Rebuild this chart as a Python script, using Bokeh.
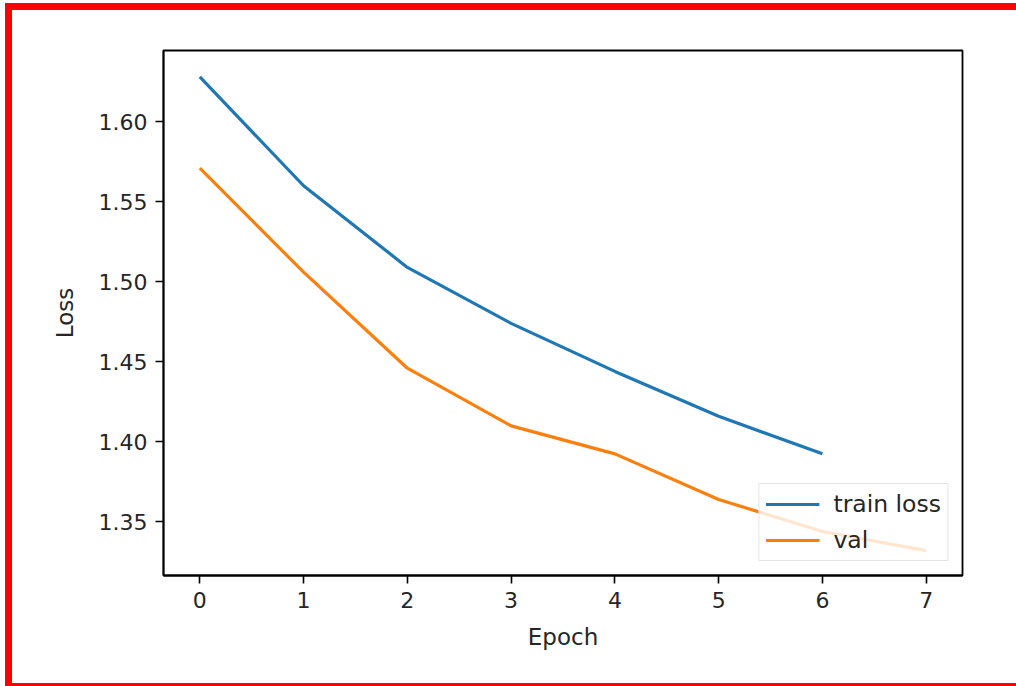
from bokeh.plotting import figure
from bokeh.models import Range1d, FixedTicker, NumeralTickFormatter, Legend, LegendItem
from bokeh.embed import file_html
from bokeh.resources import INLINE

# Data
epochs_train = [0, 1, 2, 3, 4, 5, 6]
train_loss = [1.628, 1.560, 1.509, 1.474, 1.444, 1.416, 1.3925]
epochs_val = [0, 1, 2, 3, 4, 5, 6, 7]
val_loss = [1.571, 1.506, 1.446, 1.410, 1.3925, 1.364, 1.344, 1.332]
x_ticks = [0, 1, 2, 3, 4, 5, 6, 7]
y_ticks = [1.35, 1.40, 1.45, 1.50, 1.55, 1.60]

FONT = "DejaVu Sans"
TXT = "#262626"

p = figure(
    width=1011, height=683,
    x_range=Range1d(-0.35, 7.35), y_range=Range1d(1.3165, 1.6445),
    output_backend="svg", toolbar_location=None,
    min_border_left=151, min_border_right=61, min_border_top=40, min_border_bottom=118,
)
p.styles = {"margin-left": "5px", "margin-top": "3px",
            "border-left": "7px solid #ff0000", "border-top": "7px solid #ff0000",
            "border-bottom": "3px solid #ff0000", "overflow": "hidden"}

p.xgrid.visible = False
p.ygrid.visible = False
p.outline_line_color = "black"
p.outline_line_width = 1.8

r_train = p.line(epochs_train, train_loss, line_color="#1f77b4", line_width=3.2)
r_val = p.line(epochs_val, val_loss, line_color="#ff7f0e", line_width=3.2)

for ax in (p.xaxis[0], p.yaxis[0]):
    ax.axis_line_color = "black"
    ax.axis_line_width = 1.8
    ax.major_tick_line_color = "black"
    ax.major_tick_line_width = 1.6
    ax.major_tick_out = 8
    ax.major_tick_in = 0
    ax.minor_tick_line_color = None
    ax.major_label_text_font = FONT
    ax.major_label_text_font_size = "22px"
    ax.major_label_text_color = TXT
    ax.axis_label_text_font = FONT
    ax.axis_label_text_font_size = "23px"
    ax.axis_label_text_font_style = "normal"
    ax.axis_label_text_color = TXT
    ax.major_label_standoff = 8

p.xaxis.ticker = FixedTicker(ticks=x_ticks)
p.yaxis.ticker = FixedTicker(ticks=y_ticks)
p.yaxis.formatter = NumeralTickFormatter(format="0.00")
p.xaxis.axis_label = "Epoch"
p.yaxis.axis_label = "Loss"
p.xaxis.axis_label_standoff = 13
p.yaxis.axis_label_standoff = 18

legend = Legend(items=[LegendItem(label="train loss", renderers=[r_train]),
                       LegendItem(label="val", renderers=[r_val])])
legend.location = "bottom_right"
legend.margin = 14
legend.padding = 6
legend.spacing = 8
legend.glyph_width = 54
legend.glyph_height = 24
legend.label_height = 24
legend.label_standoff = 14
legend.label_text_font = FONT
legend.label_text_font_size = "23.5px"
legend.label_text_color = TXT
legend.border_line_color = "#cccccc"
legend.border_line_width = 1.6
legend.background_fill_color = "white"
legend.background_fill_alpha = 0.8
p.add_layout(legend)

open("out.html", "w").write(file_html(p, INLINE))
